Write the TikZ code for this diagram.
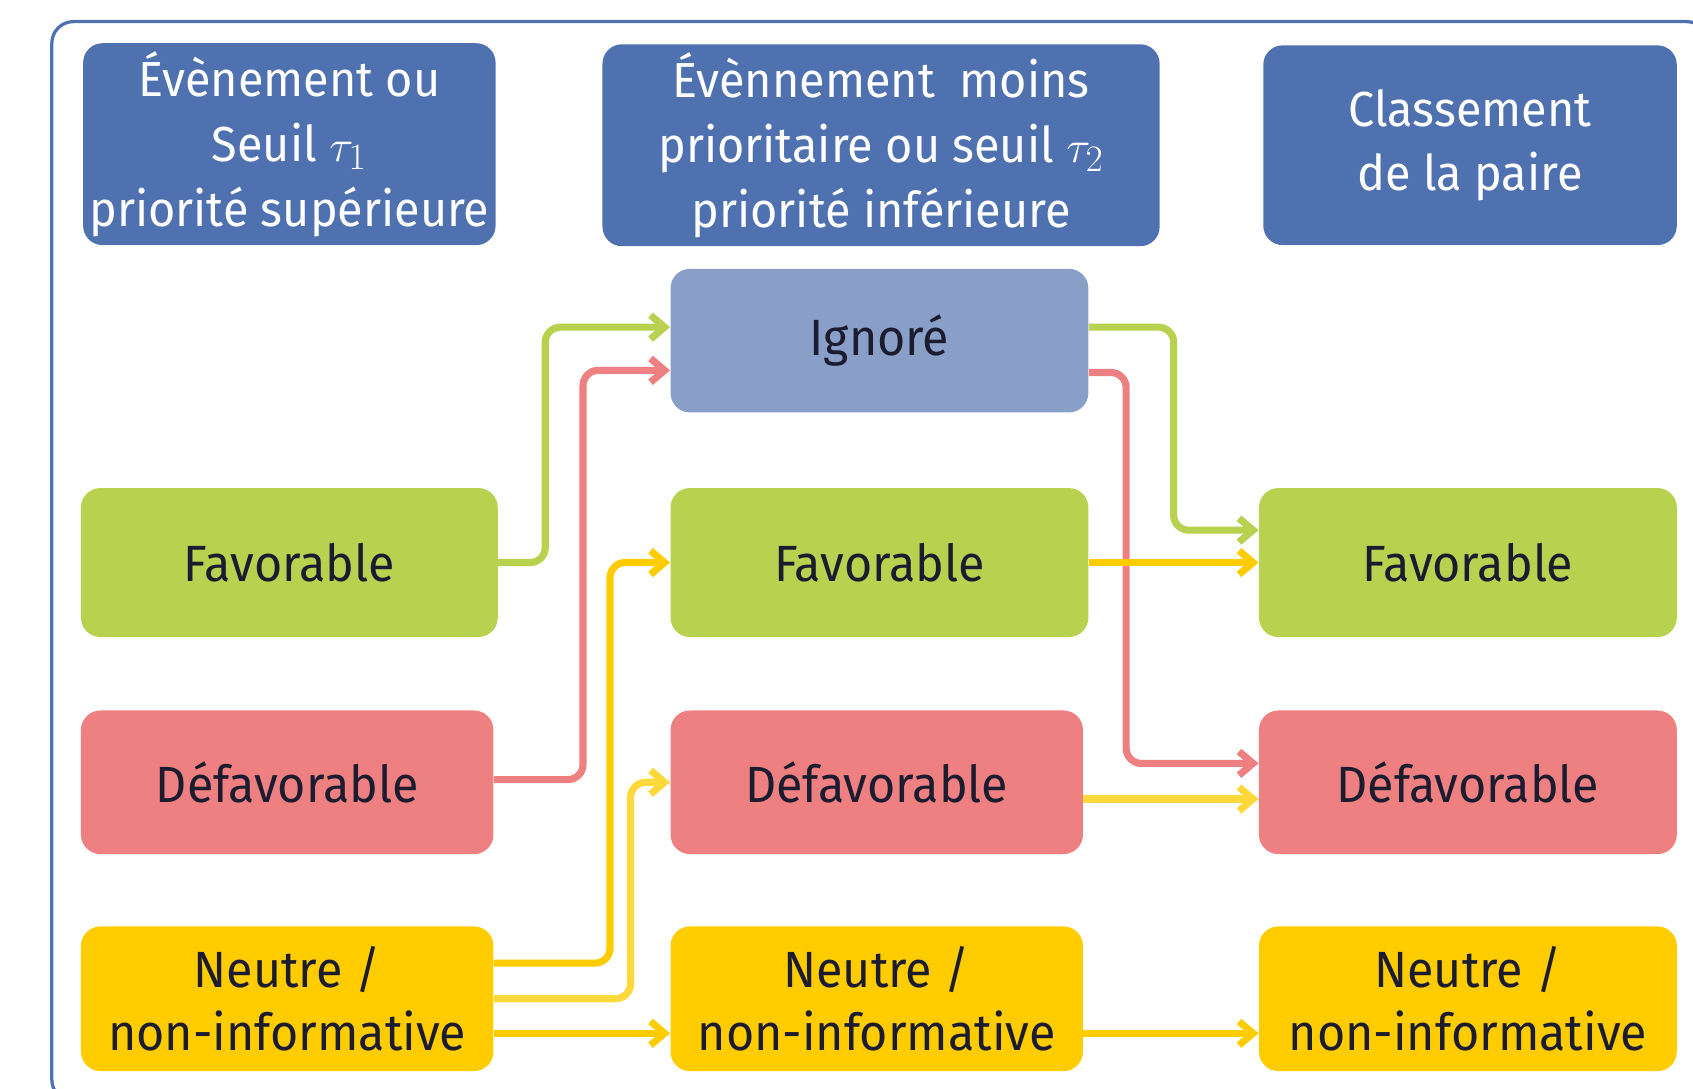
\documentclass[tikz,border=0pt]{standalone}
\usepackage{fontspec}
\setmainfont{Fira Sans}[FakeStretch=0.95]
\usetikzlibrary{arrows.meta}
\definecolor{hdr}{HTML}{4F71B0}
\definecolor{ignc}{HTML}{8A9FC8}
\definecolor{grn}{HTML}{B8D14F}
\definecolor{rd}{HTML}{EF8082}
\definecolor{yl}{HTML}{FFCC00}
\definecolor{lyl}{HTML}{FFD93B}
\definecolor{txt}{HTML}{1C1C30}
\tikzset{
  box/.style={rounded corners=9pt, align=center, inner sep=0pt, text=txt,
    font=\fontsize{23.6}{29.5}\selectfont},
  hdrbox/.style={box, fill=hdr, text=white, minimum height=93.5pt,
    font=\fontsize{22.8}{30}\selectfont},
  conn/.style={line width=3.3pt, rounded corners=7pt,
    -{Straight Barb[length=6.5pt,width=11pt]}},
}
\begin{document}
\begin{tikzpicture}[x=0.5pt,y=-0.5pt]
\useasboundingbox (0,0) rectangle (1568,1008);
\clip (0,0) rectangle (1568,1008);
\draw[hdr, line width=1.5pt, rounded corners=10pt] (48,20) rectangle (1582,1020);
% headers
\node[hdrbox, minimum width=191pt] (hA) at (268,133.5) {Évènement ou\\Seuil $\tau_1$\\priorité supérieure};
\node[hdrbox, minimum width=258pt] (hB) at (816,134.5) {Évènnement~ moins\\prioritaire ou seuil $\tau_2$\\priorité inférieure};
\node[hdrbox, minimum width=191.5pt, minimum height=92.5pt] (hC) at (1361.5,134.5) {Classement\\de la paire};
% middle column
\node[box, fill=ignc, minimum width=193.5pt, minimum height=66.5pt] (ign) at (814.5,315.5) {Ignoré};
\node[box, fill=grn, minimum width=193pt, minimum height=69pt] (favL) at (268,521) {Favorable};
\node[box, fill=grn, minimum width=193.5pt, minimum height=69pt] (favM) at (814.5,521) {Favorable};
\node[box, fill=grn, minimum width=193.5pt, minimum height=69pt] (favR) at (1359.5,521) {Favorable};
\node[box, fill=rd, minimum width=191pt, minimum height=66.5pt] (defL) at (266,724.5) {Défavorable};
\node[box, fill=rd, minimum width=191pt, minimum height=66.5pt] (defM) at (812,724.5) {Défavorable};
\node[box, fill=rd, minimum width=193.5pt, minimum height=66.5pt] (defR) at (1359.5,724.5) {Défavorable};
\node[box, fill=yl, minimum width=191pt, minimum height=67pt] (neuL) at (266,925) {Neutre /\\non-informative};
\node[box, fill=yl, minimum width=191pt, minimum height=67pt] (neuM) at (812,925) {Neutre /\\non-informative};
\node[box, fill=yl, minimum width=193.5pt, minimum height=67pt] (neuR) at (1359.5,925) {Neutre /\\non-informative};
% connectors left to middle
\draw[conn, grn] (favL.east) -- (505,521) -- (505,303) -- (ign.west |- 0,303);
\draw[conn, rd] (defL.east |- 0,722) -- (540,722) -- (540,343) -- (ign.west |- 0,343);
\draw[conn, yl] (neuL.east |- 0,892) -- (565,892) -- (565,521) -- (favM.west);
\draw[conn, lyl] (neuL.east |- 0,925) -- (584,925) -- (584,724.5) -- (defM.west);
\draw[conn, yl] (neuL.east |- 0,957) -- (neuM.west |- 0,957);
% connectors middle to right
\draw[conn, grn] (ign.east |- 0,303) -- (1087,303) -- (1087,491) -- (favR.west |- 0,491);
\draw[conn, rd] (ign.east |- 0,345) -- (1043,345) -- (1043,707) -- (defR.west |- 0,707);
\draw[conn, yl] (favM.east) -- (favR.west);
\draw[conn, lyl] (defM.east |- 0,740) -- (defR.west |- 0,740);
\draw[conn, yl] (neuM.east |- 0,957) -- (neuR.west |- 0,957);
\end{tikzpicture}
\end{document}
